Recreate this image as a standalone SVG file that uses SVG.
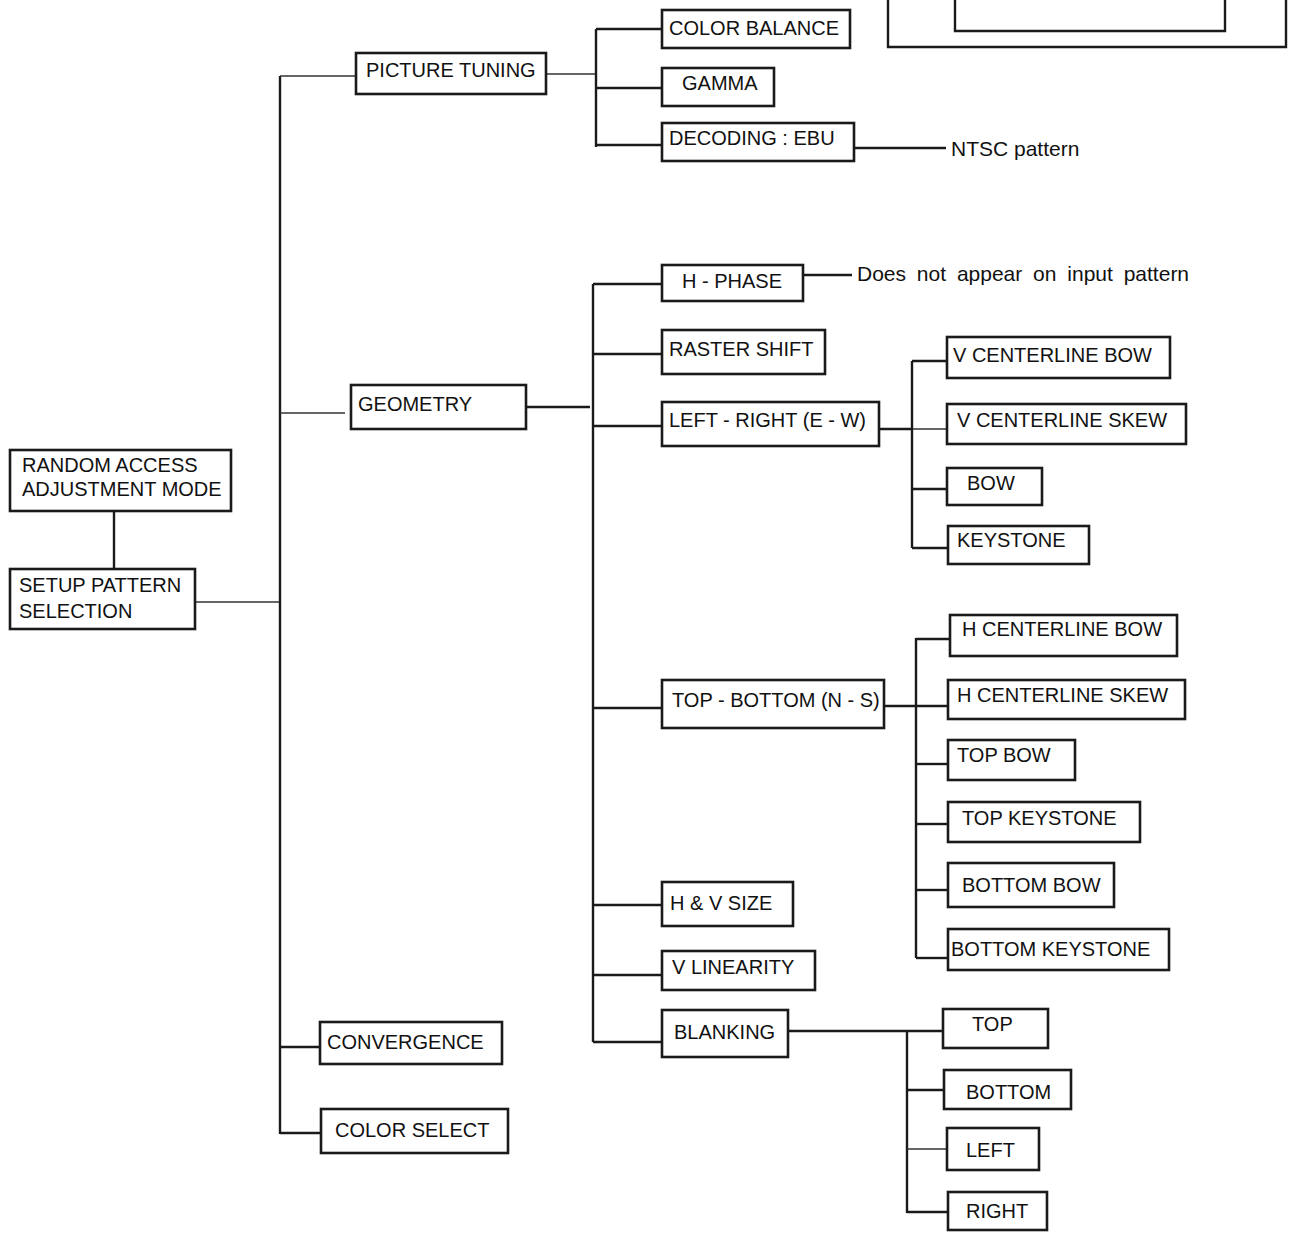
<svg xmlns="http://www.w3.org/2000/svg" width="1290" height="1235" viewBox="0 0 1290 1235">
<style>
  .box{fill:#fff;stroke:#1a1a1a;stroke-width:2.6}
  .t{font-family:"Liberation Sans",Arial,sans-serif;font-size:20px;fill:#111}
  .note{font-family:"Liberation Sans",Arial,sans-serif;font-size:21px;fill:#111}
  .w{stroke:#1a1a1a;stroke-width:2.4;fill:none}
  .n{stroke:#333;stroke-width:1.3;fill:none}
</style>
<rect width="1290" height="1235" fill="#fff"/>

<!-- screen frame cut at the top edge -->
<g id="screen">
  <path class="w" d="M888,-5 V47 H1286 V-5"/>
  <path class="w" d="M955,-5 V31 H1225 V-5"/>
</g>

<g id="connectors">
  <!-- root -->
  <line class="w" x1="114" y1="511" x2="114" y2="569"/>
  <line class="n" x1="195" y1="602" x2="280" y2="602"/>
  <line class="w" x1="280" y1="76" x2="280" y2="1134"/>
  <line class="n" x1="280" y1="76" x2="356" y2="76"/>
  <line class="n" x1="280" y1="413" x2="345" y2="413"/>
  <line class="w" x1="280" y1="1047" x2="320" y2="1047"/>
  <line class="w" x1="280" y1="1133" x2="321" y2="1133"/>
  <!-- picture tuning -->
  <line class="n" x1="546" y1="74" x2="596" y2="74"/>
  <line class="w" x1="596" y1="29" x2="596" y2="147"/>
  <line class="w" x1="596" y1="29" x2="662" y2="29"/>
  <line class="w" x1="596" y1="88" x2="662" y2="88"/>
  <line class="w" x1="596" y1="145" x2="662" y2="145"/>
  <line class="w" x1="854" y1="148" x2="946" y2="148"/>
  <!-- geometry -->
  <line class="w" x1="526" y1="407" x2="590" y2="407"/>
  <line class="w" x1="593" y1="284" x2="593" y2="1042"/>
  <line class="w" x1="593" y1="284" x2="662" y2="284"/>
  <line class="w" x1="803" y1="275" x2="852" y2="275"/>
  <line class="w" x1="593" y1="354" x2="662" y2="354"/>
  <line class="w" x1="593" y1="426" x2="662" y2="426"/>
  <line class="w" x1="593" y1="708" x2="662" y2="708"/>
  <line class="w" x1="593" y1="905" x2="662" y2="905"/>
  <line class="w" x1="593" y1="975" x2="662" y2="975"/>
  <line class="w" x1="593" y1="1042" x2="662" y2="1042"/>
  <!-- left-right -->
  <line class="w" x1="879" y1="429" x2="912" y2="429"/>
  <line class="n" x1="912" y1="429" x2="947" y2="429"/>
  <line class="w" x1="912" y1="361" x2="912" y2="548"/>
  <line class="w" x1="912" y1="361" x2="947" y2="361"/>
  <line class="w" x1="912" y1="489" x2="947" y2="489"/>
  <line class="w" x1="912" y1="548" x2="948" y2="548"/>
  <!-- top-bottom -->
  <line class="w" x1="884" y1="706" x2="948" y2="706"/>
  <line class="w" x1="916" y1="638" x2="916" y2="958"/>
  <line class="w" x1="916" y1="639" x2="950" y2="639"/>
  <line class="w" x1="916" y1="764" x2="948" y2="764"/>
  <line class="w" x1="916" y1="824" x2="948" y2="824"/>
  <line class="w" x1="916" y1="890" x2="948" y2="890"/>
  <line class="w" x1="916" y1="958" x2="948" y2="958"/>
  <!-- blanking -->
  <line class="w" x1="788" y1="1031" x2="943" y2="1031"/>
  <line class="w" x1="907" y1="1031" x2="907" y2="1213"/>
  <line class="w" x1="907" y1="1090" x2="944" y2="1090"/>
  <line class="n" x1="907" y1="1149" x2="947" y2="1149"/>
  <line class="w" x1="907" y1="1212" x2="948" y2="1212"/>
</g>

<g id="random-access">
  <rect class="box" x="10" y="450" width="221" height="61"/>
  <text class="t" x="22" y="472">RANDOM ACCESS</text>
  <text class="t" x="22" y="496">ADJUSTMENT MODE</text>
</g>
<g id="setup-pattern">
  <rect class="box" x="10" y="569" width="185" height="60"/>
  <text class="t" x="19" y="592">SETUP PATTERN</text>
  <text class="t" x="19" y="618">SELECTION</text>
</g>

<g id="picture-tuning">
  <rect class="box" x="356" y="53" width="190" height="41"/>
  <text class="t" x="366" y="77">PICTURE TUNING</text>
</g>
<g id="color-balance">
  <rect class="box" x="662" y="10" width="188" height="38"/>
  <text class="t" x="669" y="35">COLOR BALANCE</text>
</g>
<g id="gamma">
  <rect class="box" x="662" y="68" width="112" height="38"/>
  <text class="t" x="682" y="90">GAMMA</text>
</g>
<g id="decoding">
  <rect class="box" x="662" y="123" width="192" height="38"/>
  <text class="t" x="669" y="145">DECODING : EBU</text>
</g>
<g id="ntsc-note">
  <text class="note" x="951" y="156">NTSC pattern</text>
</g>

<g id="geometry">
  <rect class="box" x="351" y="385" width="175" height="44"/>
  <text class="t" x="358" y="411">GEOMETRY</text>
</g>
<g id="h-phase">
  <rect class="box" x="662" y="265" width="141" height="36"/>
  <text class="t" x="682" y="288">H - PHASE</text>
</g>
<g id="phase-note">
  <text class="note" x="857" y="281" word-spacing="5">Does not appear on input pattern</text>
</g>
<g id="raster-shift">
  <rect class="box" x="662" y="330" width="163" height="44"/>
  <text class="t" x="669" y="356">RASTER SHIFT</text>
</g>
<g id="left-right">
  <rect class="box" x="662" y="402" width="217" height="44"/>
  <text class="t" x="669" y="427">LEFT - RIGHT (E - W)</text>
</g>
<g id="v-centerline-bow">
  <rect class="box" x="947" y="337" width="223" height="41"/>
  <text class="t" x="953" y="362">V CENTERLINE BOW</text>
</g>
<g id="v-centerline-skew">
  <rect class="box" x="947" y="404" width="239" height="40"/>
  <text class="t" x="957" y="427">V CENTERLINE SKEW</text>
</g>
<g id="bow">
  <rect class="box" x="947" y="468" width="95" height="37"/>
  <text class="t" x="967" y="490">BOW</text>
</g>
<g id="keystone">
  <rect class="box" x="948" y="526" width="141" height="38"/>
  <text class="t" x="957" y="547">KEYSTONE</text>
</g>

<g id="top-bottom">
  <rect class="box" x="662" y="680" width="222" height="48"/>
  <text class="t" x="672" y="707">TOP - BOTTOM (N - S)</text>
</g>
<g id="h-centerline-bow">
  <rect class="box" x="950" y="615" width="227" height="41"/>
  <text class="t" x="962" y="636">H CENTERLINE BOW</text>
</g>
<g id="h-centerline-skew">
  <rect class="box" x="948" y="680" width="237" height="39"/>
  <text class="t" x="957" y="702">H CENTERLINE SKEW</text>
</g>
<g id="top-bow">
  <rect class="box" x="948" y="740" width="127" height="40"/>
  <text class="t" x="957" y="762">TOP BOW</text>
</g>
<g id="top-keystone">
  <rect class="box" x="948" y="802" width="192" height="40"/>
  <text class="t" x="962" y="825">TOP KEYSTONE</text>
</g>
<g id="bottom-bow">
  <rect class="box" x="948" y="863" width="166" height="44"/>
  <text class="t" x="962" y="892">BOTTOM BOW</text>
</g>
<g id="bottom-keystone">
  <rect class="box" x="948" y="929" width="221" height="41"/>
  <text class="t" x="951" y="956">BOTTOM KEYSTONE</text>
</g>

<g id="hv-size">
  <rect class="box" x="662" y="882" width="131" height="44"/>
  <text class="t" x="670" y="910">H &amp; V SIZE</text>
</g>
<g id="v-linearity">
  <rect class="box" x="662" y="951" width="153" height="39"/>
  <text class="t" x="672" y="974">V LINEARITY</text>
</g>
<g id="blanking">
  <rect class="box" x="662" y="1010" width="126" height="47"/>
  <text class="t" x="674" y="1039">BLANKING</text>
</g>
<g id="blank-top">
  <rect class="box" x="943" y="1009" width="105" height="39"/>
  <text class="t" x="972" y="1031">TOP</text>
</g>
<g id="blank-bottom">
  <rect class="box" x="944" y="1070" width="127" height="39"/>
  <text class="t" x="966" y="1099">BOTTOM</text>
</g>
<g id="blank-left">
  <rect class="box" x="947" y="1128" width="92" height="42"/>
  <text class="t" x="966" y="1157">LEFT</text>
</g>
<g id="blank-right">
  <rect class="box" x="948" y="1192" width="99" height="38"/>
  <text class="t" x="966" y="1218">RIGHT</text>
</g>

<g id="convergence">
  <rect class="box" x="320" y="1022" width="182" height="42"/>
  <text class="t" x="327" y="1049">CONVERGENCE</text>
</g>
<g id="color-select">
  <rect class="box" x="321" y="1109" width="187" height="44"/>
  <text class="t" x="335" y="1137">COLOR SELECT</text>
</g>
</svg>
